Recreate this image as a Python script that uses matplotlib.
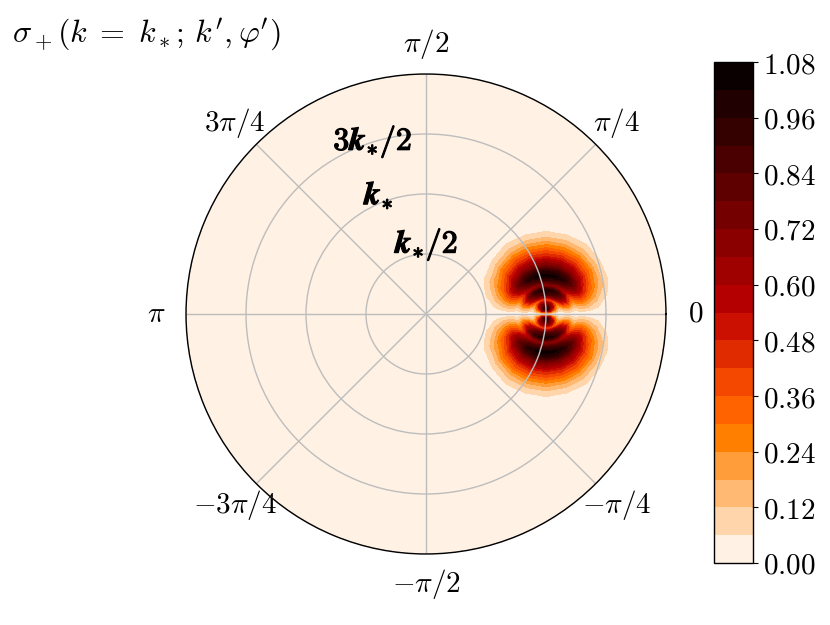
import matplotlib

matplotlib.use("Agg")
import matplotlib.patheffects as pe
import matplotlib.pyplot as plt
import numpy as np

plt.rcParams["mathtext.fontset"] = "cm"
plt.rcParams["font.family"] = ["DejaVu Serif"]

# local polar grid around the resonance point (k'=k_*, phi'=0), in units of k_*
rho = [0.00, 0.04, 0.08, 0.12, 0.16, 0.20, 0.24, 0.28, 0.32, 0.36,
       0.40, 0.44, 0.48, 0.52, 0.56, 0.60, 0.64, 0.68, 0.72, 0.76]
alpha_deg = [0, 15, 30, 45, 60, 75, 90]

# sigma_+ values, upper lobe, alpha = 0..90 deg
sigma_quarter = [
    [0.00, 0.00, 0.00, 0.00, 0.00, 0.00, 0.00],
    [0.00, 0.19, 0.46, 0.70, 0.86, 0.93, 0.95],
    [0.00, 0.15, 0.36, 0.56, 0.68, 0.74, 0.75],
    [0.00, 0.07, 0.17, 0.26, 0.32, 0.34, 0.35],
    [0.00, 0.17, 0.41, 0.63, 0.77, 0.83, 0.85],
    [0.00, 0.20, 0.48, 0.74, 0.91, 0.98, 1.00],
    [0.00, 0.13, 0.31, 0.48, 0.59, 0.64, 0.65],
    [0.00, 0.18, 0.43, 0.67, 0.82, 0.88, 0.90],
    [0.00, 0.21, 0.50, 0.78, 0.96, 1.03, 1.05],
    [0.00, 0.19, 0.46, 0.70, 0.86, 0.93, 0.95],
    [0.00, 0.15, 0.36, 0.56, 0.68, 0.74, 0.75],
    [0.00, 0.12, 0.29, 0.45, 0.56, 0.61, 0.62],
    [0.00, 0.07, 0.21, 0.34, 0.43, 0.47, 0.48],
    [0.00, 0.05, 0.15, 0.26, 0.34, 0.37, 0.38],
    [0.00, 0.03, 0.09, 0.16, 0.23, 0.27, 0.28],
    [0.00, 0.01, 0.05, 0.10, 0.15, 0.18, 0.19],
    [0.00, 0.00, 0.02, 0.05, 0.09, 0.11, 0.12],
    [0.00, 0.00, 0.01, 0.02, 0.05, 0.06, 0.07],
    [0.00, 0.00, 0.00, 0.00, 0.01, 0.02, 0.02],
    [0.00, 0.00, 0.00, 0.00, 0.00, 0.00, 0.00],
]

cbar_levels = np.arange(0, 1.08 + 1e-9, 0.06)
cbar_ticks = np.arange(0, 1.08 + 1e-9, 0.12)
theta_ticks = [0, np.pi / 4, np.pi / 2, 3 * np.pi / 4, np.pi,
               5 * np.pi / 4, 3 * np.pi / 2, 7 * np.pi / 4]
theta_labels = [r"$0$", r"$\pi/4$", r"$\pi/2$", r"$3\pi/4$", r"$\pi$",
                r"$-3\pi/4$", r"$-\pi/2$", r"$-\pi/4$"]
r_ticks = [0.5, 1.0, 1.5, 2.0]
r_labels = [r"$\mathbfit{k}_{\mathbf{*}}\mathbf{/2}$",
            r"$\mathbfit{k}_{\mathbf{*}}$",
            r"$\mathbf{3}\mathbfit{k}_{\mathbf{*}}\mathbf{/2}$", ""]
R_MAX = 2.0

# the picture is symmetric: mirror about alpha=90 deg, then about phi'=0
quarter = np.array(sigma_quarter)
half = np.hstack([quarter, quarter[:, -2::-1]])
full = np.hstack([half[:, :0:-1], half])
alpha_half = np.deg2rad(np.concatenate([alpha_deg, 180 - np.array(alpha_deg[-2::-1])]))
alpha_full = np.concatenate([-alpha_half[:0:-1], alpha_half])

RHO, ALPHA = np.meshgrid(rho, alpha_full, indexing="ij")
X = 1.0 + RHO * np.cos(ALPHA)
Y = RHO * np.sin(ALPHA)
theta_grid = np.arctan2(Y, X)
r_grid = np.hypot(X, Y)

fig = plt.figure(figsize=(8.3, 6.25), dpi=100)
ax = fig.add_axes([0.2241, 0.1136, 0.5783, 0.768], projection="polar")

shade = ax.contourf(theta_grid, r_grid, full, levels=cbar_levels,
                    cmap="gist_heat_r")
ax.set_facecolor(shade.cmap(shade.norm(shade.layers[0])))

ax.set_rlim(0, R_MAX)
ax.set_xticks(theta_ticks)
ax.set_xticklabels(theta_labels, fontsize=21)
ax.set_yticks(r_ticks)
ax.set_yticklabels(r_labels, fontsize=23)
for label in ax.get_yticklabels():
    label.set_path_effects([pe.withStroke(linewidth=0.9, foreground="black")])
ax.set_rlabel_position(121)
ax.tick_params(axis="x", pad=11)
ax.grid(True, color="#bdbdbd", linewidth=1.0)
ax.spines["polar"].set_linewidth(1.0)

cax = fig.add_axes([0.8602, 0.0992, 0.047, 0.8016])
cbar = fig.colorbar(shade, cax=cax, ticks=cbar_ticks)
cbar.ax.set_yticklabels([r"$%.2f$" % t for t in cbar_ticks], fontsize=21)
cbar.outline.set_linewidth(1.0)

fig.text(0.015, 0.945, r"$\sigma_+(k\;=\;k_*;\,k^\prime,\varphi^\prime)$",
         fontsize=23, va="center", ha="left")

fig.savefig("out.png", dpi=100)
